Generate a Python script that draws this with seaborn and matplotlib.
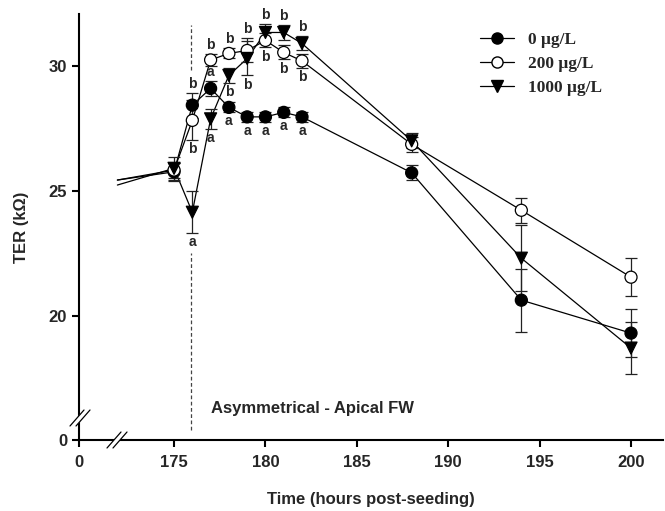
import numpy as np
import pandas as pd
import matplotlib.pyplot as plt
import seaborn as sns
from matplotlib.lines import Line2D

# TER (kOhm): mean and SE for each treatment
hours = [175, 176, 177, 178, 179, 180, 181, 182, 188, 194, 200]
groups = ["0 μg/L", "200 μg/L", "1000 μg/L"]
ter_0 = [25.78, 28.45, 29.12, 28.36, 27.98, 27.98, 28.16, 27.98, 25.74, 20.64, 19.32]
ter_200 = [25.85, 27.84, 30.26, 30.52, 30.64, 31.04, 30.56, 30.22, 26.88, 24.24, 21.56]
ter_1000 = [25.92, 24.16, 27.90, 29.64, 30.32, 31.36, 31.36, 30.92, 27.02, 22.32, 18.72]
se_0 = [0.35, 0.50, 0.30, 0.20, 0.20, 0.20, 0.20, 0.20, 0.30, 1.26, 0.96]
se_200 = [0.30, 0.80, 0.25, 0.20, 0.48, 0.28, 0.28, 0.28, 0.30, 0.50, 0.76]
se_1000 = [0.45, 0.84, 0.40, 0.30, 0.68, 0.32, 0.30, 0.28, 0.30, 1.32, 1.04]

# lines coming in from the axis break
break_hour = 171.9
start_ter = [25.45, 25.45, 25.25]

# significance letters: (hour, group index, letter, side +1 above / -1 below)
letters = [
    (176, 0, "b", 1), (176, 1, "b", -1), (176, 2, "a", -1),
    (177, 1, "b", 1), (177, 0, "a", 1), (177, 2, "a", -1),
    (178, 1, "b", 1), (178, 2, "b", -1), (178, 0, "a", -1),
    (179, 1, "b", 1), (179, 2, "b", -1), (179, 0, "a", -1),
    (180, 2, "b", 1), (180, 1, "b", -1), (180, 0, "a", -1),
    (181, 2, "b", 1), (181, 1, "b", -1), (181, 0, "a", -1),
    (182, 2, "b", 1), (182, 1, "b", -1), (182, 0, "a", -1),
]

means = [ter_0, ter_200, ter_1000]
ses = [se_0, se_200, se_1000]
df = pd.DataFrame({
    "hour": hours * 3,
    "ter": ter_0 + ter_200 + ter_1000,
    "group": np.repeat(groups, len(hours)),
})
lines_df = pd.concat([
    pd.DataFrame({"hour": [break_hour] * 3, "ter": start_ter, "group": groups}),
    df,
], ignore_index=True)

sns.set_style("ticks")
plt.rcParams["font.family"] = ["Liberation Sans", "DejaVu Sans"]

fig = plt.figure(figsize=(6.65, 5.11), dpi=100)
ax = fig.add_axes([79 / 665, 1 - 440 / 511, (663 - 79) / 665, (440 - 14) / 511])

sns.lineplot(data=lines_df, x="hour", y="ter", hue="group", palette=["black"] * 3,
             estimator=None, legend=False, lw=0.9, ax=ax, zorder=2)

for m, s in zip(means, ses):
    ax.errorbar(hours, m, yerr=s, fmt="none", ecolor="#222222", elinewidth=0.9,
                capsize=4.5, capthick=0.9, zorder=3)

face = {"0 μg/L": "black", "200 μg/L": "white", "1000 μg/L": "black"}
marks = {"0 μg/L": "o", "200 μg/L": "o", "1000 μg/L": "v"}
sns.scatterplot(data=df, x="hour", y="ter", hue="group", style="group", palette=face,
                markers=marks, s=75, edgecolor="black", linewidth=0.9, legend=False,
                ax=ax, zorder=5)

for h, g, letter, side in letters:
    i = hours.index(h)
    y = means[g][i] + side * ses[g][i]
    ax.annotate(letter, (h, y), xytext=(0, side * 1.5), textcoords="offset points",
                ha="center", va="bottom" if side > 0 else "top",
                fontsize=10, fontweight="bold")

# treatment start marker
ax.vlines([175.95, 175.95], [29.84, 15.44], [31.64, 22.52], colors="#444444",
          linestyles=(0, (3, 2)), lw=0.9)

ax.text(177.0, 16.3, "Asymmetrical - Apical FW", fontsize=12, fontweight="bold",
        va="center")

ax.set_xlim(169.8, 201.75)
ax.set_ylim(15.04, 32.1)
ax.set_xticks([169.8, 175, 180, 185, 190, 195, 200])
ax.set_xticklabels(["0", "175", "180", "185", "190", "195", "200"])
ax.set_yticks([15.04, 20, 25, 30])
ax.set_yticklabels(["0", "20", "25", "30"])
ax.tick_params(length=5, width=1.5, labelsize=12, color="black")
ax.tick_params(axis="x", pad=6)
for lab in ax.get_xticklabels() + ax.get_yticklabels():
    lab.set_fontweight("bold")
for sp in ["left", "bottom"]:
    ax.spines[sp].set_linewidth(1.5)
    ax.spines[sp].set_color("black")
sns.despine(ax=ax)

ax.set_xlabel("Time (hours post-seeding)", fontsize=12, fontweight="bold")
ax.set_ylabel("TER (kΩ)", fontsize=12, fontweight="bold")
ax.xaxis.set_label_coords(0.5, -0.122)
ax.yaxis.set_label_coords(-0.086, 0.5)

# axis break marks
def break_mark(px, py):
    fig.add_artist(Line2D([(px - 6) / 665, (px + 6) / 665],
                          [1 - (py + 7) / 511, 1 - (py - 7) / 511],
                          color="white", lw=3.5, zorder=3))
    for d in (-3, 3):
        fig.add_artist(Line2D([(px + d - 7) / 665, (px + d + 7) / 665],
                              [1 - (py + 8) / 511, 1 - (py - 8) / 511],
                              color="black", lw=0.9, zorder=4))

break_mark(117, 440)
break_mark(80, 418)

handles = [Line2D([0], [0], color="black", lw=0.9, marker=marks[g], markersize=8,
                  markerfacecolor=face[g], markeredgecolor="black") for g in groups]
ax.legend(handles, groups, loc="upper left", bbox_to_anchor=(464 / 665, 1 - 16 / 511),
          bbox_transform=fig.transFigure, frameon=False, handlelength=2.0,
          labelspacing=0.45, prop={"family": "Liberation Serif", "weight": "bold", "size": 12.5})

fig.savefig("out.png", dpi=100)
